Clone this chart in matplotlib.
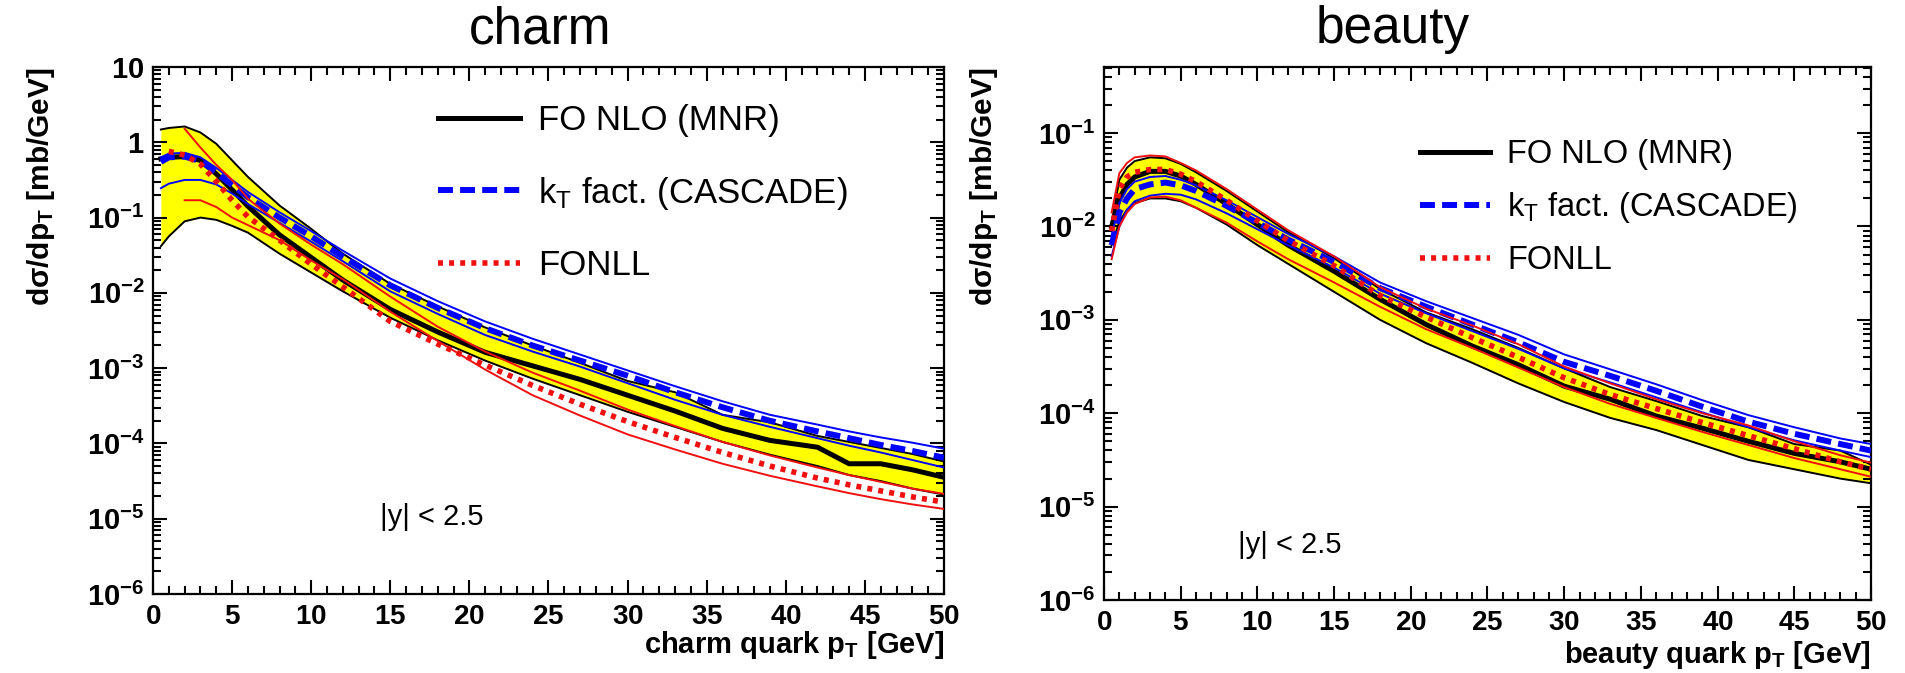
import numpy as np
import matplotlib
matplotlib.use('Agg')
import matplotlib.pyplot as plt
from matplotlib.ticker import FixedLocator, MultipleLocator, FuncFormatter, NullFormatter

plt.rcParams['font.family'] = ['Liberation Sans', 'DejaVu Sans']
plt.rcParams['mathtext.fontset'] = 'custom'
plt.rcParams['mathtext.rm'] = 'Liberation Sans'
plt.rcParams['mathtext.it'] = 'Liberation Sans:italic'
plt.rcParams['mathtext.bf'] = 'Liberation Sans:bold'

# ---- charm: log10(dsigma/dpT [mb/GeV]) ----
pt_c = [0.5, 1, 2, 3, 4, 5, 6, 8, 10, 12, 15, 18, 21, 24, 27, 30, 33, 36, 39, 42, 44, 46, 48, 50]
nlo_c    = [-0.22, -0.20, -0.19, -0.24, -0.42, -0.63, -0.85, -1.23, -1.53, -1.83, -2.22, -2.52, -2.79, -2.97, -3.15, -3.36, -3.57, -3.80, -3.96, -4.05, -4.27, -4.27, -4.35, -4.45]
nlo_c_hi = [0.17, 0.19, 0.21, 0.13, -0.02, -0.24, -0.46, -0.84, -1.15, -1.48, -1.88, -2.18, -2.46, -2.70, -2.93, -3.17, -3.32, -3.62, -3.72, -3.90, -3.98, -4.06, -4.14, -4.24]
nlo_c_lo = [-1.38, -1.25, -1.05, -1.00, -1.03, -1.11, -1.20, -1.48, -1.73, -1.98, -2.33, -2.63, -2.90, -3.14, -3.36, -3.58, -3.78, -3.98, -4.15, -4.30, -4.42, -4.50, -4.60, -4.68]
cas_c    = [-0.26, -0.20, -0.19, -0.25, -0.40, -0.57, -0.73, -1.00, -1.25, -1.52, -1.90, -2.20, -2.47, -2.70, -2.90, -3.10, -3.32, -3.52, -3.70, -3.84, -3.93, -4.02, -4.10, -4.19]
cas_c_hi = [-0.20, -0.15, -0.14, -0.20, -0.34, -0.50, -0.66, -0.93, -1.18, -1.44, -1.81, -2.11, -2.38, -2.61, -2.82, -3.03, -3.24, -3.44, -3.62, -3.75, -3.84, -3.92, -3.99, -4.07]
cas_c_lo = [-0.61, -0.55, -0.50, -0.50, -0.56, -0.68, -0.82, -1.07, -1.32, -1.58, -1.98, -2.28, -2.56, -2.78, -2.98, -3.20, -3.42, -3.62, -3.78, -3.93, -4.03, -4.12, -4.22, -4.32]
fonll_c    = [np.nan, -0.12, -0.17, -0.29, -0.52, -0.77, -0.99, -1.30, -1.62, -1.92, -2.38, -2.68, -2.96, -3.23, -3.48, -3.71, -3.92, -4.12, -4.30, -4.46, -4.55, -4.63, -4.71, -4.78]
fonll_c_hi = [np.nan, np.nan, 0.18, -0.07, -0.30, -0.50, -0.75, -1.08, -1.36, -1.62, -2.05, -2.45, -2.78, -3.06, -3.30, -3.55, -3.77, -3.98, -4.16, -4.32, -4.42, -4.51, -4.60, -4.67]
fonll_c_lo = [np.nan, np.nan, -0.77, -0.77, -0.86, -1.00, -1.10, -1.30, -1.57, -1.82, -2.25, -2.64, -3.02, -3.36, -3.63, -3.88, -4.08, -4.27, -4.43, -4.57, -4.66, -4.74, -4.81, -4.87]

# ---- beauty ----
pt_b = [0.5, 1, 1.5, 2, 3, 4, 5, 6, 8, 10, 12, 15, 18, 21, 24, 27, 30, 33, 36, 39, 42, 45, 48, 50]
nlo_b    = [-2.00, -1.70, -1.55, -1.47, -1.41, -1.41, -1.46, -1.55, -1.76, -1.98, -2.20, -2.48, -2.78, -3.05, -3.28, -3.48, -3.71, -3.85, -4.03, -4.16, -4.30, -4.43, -4.52, -4.60]
nlo_b_hi = [-1.95, -1.50, -1.37, -1.30, -1.26, -1.27, -1.33, -1.42, -1.62, -1.84, -2.06, -2.34, -2.67, -2.92, -3.10, -3.30, -3.52, -3.72, -3.87, -4.03, -4.15, -4.33, -4.40, -4.55]
nlo_b_lo = [-2.20, -1.95, -1.82, -1.75, -1.70, -1.70, -1.73, -1.80, -1.98, -2.20, -2.40, -2.70, -3.00, -3.25, -3.46, -3.68, -3.88, -4.05, -4.18, -4.34, -4.50, -4.60, -4.70, -4.75]
cas_b    = [-2.20, -1.85, -1.70, -1.60, -1.55, -1.53, -1.56, -1.62, -1.78, -1.96, -2.14, -2.38, -2.66, -2.86, -3.05, -3.24, -3.45, -3.60, -3.76, -3.93, -4.09, -4.22, -4.33, -4.40]
cas_b_hi = [-2.10, -1.75, -1.60, -1.52, -1.47, -1.46, -1.50, -1.56, -1.72, -1.90, -2.08, -2.32, -2.60, -2.80, -2.98, -3.16, -3.37, -3.53, -3.69, -3.86, -4.02, -4.15, -4.27, -4.33]
cas_b_lo = [-2.32, -2.00, -1.82, -1.73, -1.67, -1.65, -1.66, -1.71, -1.86, -2.03, -2.20, -2.44, -2.72, -2.93, -3.12, -3.31, -3.52, -3.67, -3.83, -3.99, -4.15, -4.29, -4.40, -4.47]
fonll_b    = [-2.05, -1.60, -1.47, -1.42, -1.39, -1.39, -1.44, -1.52, -1.72, -1.94, -2.15, -2.42, -2.74, -2.97, -3.19, -3.40, -3.62, -3.80, -3.95, -4.10, -4.24, -4.38, -4.52, -4.60]
fonll_b_hi = [-1.85, -1.43, -1.32, -1.26, -1.24, -1.25, -1.32, -1.40, -1.60, -1.82, -2.04, -2.32, -2.65, -2.88, -3.06, -3.26, -3.50, -3.68, -3.85, -4.00, -4.13, -4.30, -4.45, -4.53]
fonll_b_lo = [-2.35, -2.00, -1.85, -1.76, -1.69, -1.68, -1.72, -1.80, -1.96, -2.16, -2.35, -2.60, -2.86, -3.10, -3.30, -3.51, -3.72, -3.90, -4.05, -4.20, -4.34, -4.48, -4.60, -4.68]

W, H = 1906, 673
YELLOW = '#ffff00'
BLUE = '#0000ff'
RED = '#f01010'


def ylab(v, pos):
    e = int(round(np.log10(v)))
    if e == 0:
        return r'$\mathbf{1}$'
    if e == 1:
        return r'$\mathbf{10}$'
    return r'$\mathbf{10^{%d}}$' % e


def panel(ax, pt, nlo, nlo_hi, nlo_lo, cas, cas_hi, cas_lo, fonll, fonll_hi, fonll_lo, ylim, top_dec):
    p = np.array(pt)
    v = lambda a: 10 ** np.array(a, dtype=float)
    ax.fill_between(p, v(nlo_lo), v(nlo_hi), color=YELLOW, lw=0, zorder=1)
    ax.plot(p, v(nlo_hi), color='k', lw=1.4, zorder=2)
    ax.plot(p, v(nlo_lo), color='k', lw=1.4, zorder=2)
    l1, = ax.plot(p, v(nlo), color='k', lw=3.6, zorder=3)
    ax.plot(p, v(cas_hi), color=BLUE, lw=1.4, zorder=4)
    ax.plot(p, v(cas_lo), color=BLUE, lw=1.4, zorder=4)
    l2, = ax.plot(p, v(cas), color=BLUE, lw=4.3, ls=(0, (2.5, 1.2)), zorder=4)
    ax.plot(p, v(fonll_hi), color=RED, lw=1.4, zorder=5)
    ax.plot(p, v(fonll_lo), color=RED, lw=1.4, zorder=5)
    l3, = ax.plot(p, v(fonll), color=RED, lw=4.0, ls=(0, (0.9, 1.1)), zorder=5)

    ax.set_yscale('log')
    ax.set_xlim(0, 50)
    ax.set_ylim(*ylim)
    ax.xaxis.set_major_locator(MultipleLocator(5))
    ax.xaxis.set_minor_locator(MultipleLocator(1))
    ax.xaxis.set_major_formatter(FuncFormatter(lambda x, pos: r'$\mathbf{%d}$' % x))
    decades = 10.0 ** np.arange(-6, top_dec + 1)
    minors = [m * d for d in decades for m in range(2, 10) if m * d <= ylim[1]]
    ax.yaxis.set_major_locator(FixedLocator(decades))
    ax.yaxis.set_minor_locator(FixedLocator(minors))
    ax.yaxis.set_major_formatter(FuncFormatter(ylab))
    ax.yaxis.set_minor_formatter(NullFormatter())
    ax.tick_params(which='both', direction='in', top=True, right=True, width=1.5)
    ax.tick_params(which='major', length=10)
    ax.tick_params(which='minor', length=5.5)
    ax.tick_params(axis='x', labelsize=20, pad=7)
    ax.tick_params(axis='y', labelsize=21, pad=6)
    for s in ax.spines.values():
        s.set_linewidth(1.6)
    return [l1, l2, l3]


fig = plt.figure(figsize=(W / 100, H / 100), dpi=100)
ax1 = fig.add_axes([153 / W, 1 - 594 / H, 791 / W, 527 / H])
ax2 = fig.add_axes([1104 / W, 1 - 600 / H, 767 / W, 533 / H])

labels = ['FO NLO (MNR)', r'k$_{\mathrm{T}}$ fact. (CASCADE)', 'FONLL']

h1 = panel(ax1, pt_c, nlo_c, nlo_c_hi, nlo_c_lo, cas_c, cas_c_hi, cas_c_lo,
           fonll_c, fonll_c_hi, fonll_c_lo, (1e-6, 10), 1)
h2 = panel(ax2, pt_b, nlo_b, nlo_b_hi, nlo_b_lo, cas_b, cas_b_hi, cas_b_lo,
           fonll_b, fonll_b_hi, fonll_b_lo, (1e-6, 0.51), -1)

ylabel = 'd\u03c3/dp$_{\\mathbf{T}}$ [mb/GeV]'
ax1.set_ylabel(ylabel, fontsize=21.5, fontweight='bold', loc='top')
ax1.yaxis.set_label_coords(-0.121, 1.0)
ax2.set_ylabel(ylabel, fontsize=21.5, fontweight='bold', loc='top')
ax2.yaxis.set_label_coords(-0.136, 1.0)

ax1.set_xlabel('charm quark p$_{\\mathbf{T}}$ [GeV]', fontsize=21, fontweight='bold', loc='right')
ax1.xaxis.set_label_coords(1.0, -0.066)
ax2.set_xlabel('beauty quark p$_{\\mathbf{T}}$ [GeV]', fontsize=21, fontweight='bold', loc='right')
ax2.xaxis.set_label_coords(1.0, -0.074)

fig.text(540 / W, 1 - 30 / H, 'charm', fontsize=37, ha='center', va='center')
fig.text(1393 / W, 1 - 30 / H, 'beauty', fontsize=37, ha='center', va='center')

ax1.text(0.287, 0.146, '|y| < 2.5', fontsize=21, transform=ax1.transAxes, va='center')
ax2.text(0.175, 0.103, '|y| < 2.5', fontsize=21, transform=ax2.transAxes, va='center')

fig.legend(h1, labels, loc='upper left', bbox_to_anchor=(438 / W, 1 - 104 / H),
           frameon=False, fontsize=25, handlelength=2.36, handletextpad=0.52,
           labelspacing=1.08, borderpad=0, borderaxespad=0)
fig.legend(h2, labels, loc='upper left', bbox_to_anchor=(1420 / W, 1 - 139 / H),
           frameon=False, fontsize=23.5, handlelength=2.15, handletextpad=0.52,
           labelspacing=0.62, borderpad=0, borderaxespad=0)

fig.savefig('out.png', dpi=100)
